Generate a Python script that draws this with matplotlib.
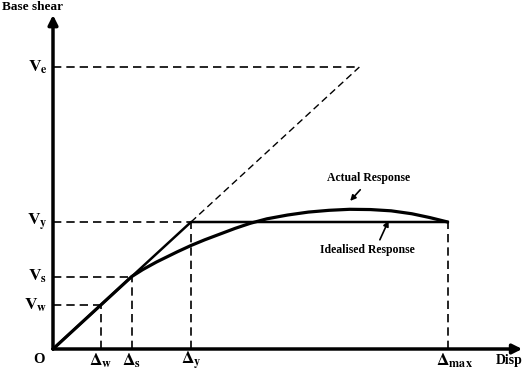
import matplotlib.pyplot as plt
import numpy as np

plt.rcParams['mathtext.fontset'] = 'stix'
plt.rcParams['font.family'] = 'Liberation Serif'

# key points (displacement, shear) in units of yield
d_w, v_w = 0.345, 0.345
d_s, v_s = 0.57, 0.57
d_y, v_y = 1.0, 1.0
d_e, v_e = 2.22, 2.22
d_max = 2.86

# actual response curve
act_x = [0.0, 0.345, 0.57, 0.65, 0.75, 0.9, 1.0, 1.1, 1.21, 1.32, 1.43, 1.55,
         1.7, 1.85, 2.0, 2.15, 2.3, 2.45, 2.6, 2.73, 2.86]
act_y = [0.0, 0.345, 0.57, 0.625, 0.685, 0.765, 0.815, 0.86, 0.905, 0.95, 0.99, 1.025,
         1.055, 1.078, 1.092, 1.10, 1.098, 1.088, 1.065, 1.035, 1.0]

v_labels = [r'$\mathbf{V_e}$', r'$\mathbf{V_y}$', r'$\mathbf{V_s}$', r'$\mathbf{V_w}$']
v_vals = [v_e, v_y, v_s, v_w]
d_labels = [r'$\mathbf{\Delta_w}$', r'$\mathbf{\Delta_s}$', r'$\mathbf{\Delta_y}$', r'$\mathbf{\Delta_{max}}$']
d_vals = [d_w, d_s, d_y, d_max]

fig = plt.figure(figsize=(5.24, 3.79), dpi=100)
ax = fig.add_axes([0, 0, 1, 1])
ax.set_xlim(-53/138, 471/138)
ax.set_ylim(-30/127, 349/127)
ax.axis('off')

# axes with arrows
ax.annotate('', xy=(3.40, 0), xytext=(0, 0), annotation_clip=False,
            arrowprops=dict(arrowstyle='-|>', lw=2.5, color='black', mutation_scale=14,
                            shrinkA=0, shrinkB=0))
ax.annotate('', xy=(0, 2.63), xytext=(0, 0), annotation_clip=False,
            arrowprops=dict(arrowstyle='-|>', lw=2.5, color='black', mutation_scale=14,
                            shrinkA=0, shrinkB=0))

dash = dict(color='black', lw=1.2, ls=(0, (5, 3)))
# horizontal dashed guides
ax.plot([0, d_e], [v_e, v_e], **dash)
ax.plot([0, d_y], [v_y, v_y], **dash)
ax.plot([0, d_s], [v_s, v_s], **dash)
ax.plot([0, d_w], [v_w, v_w], **dash)
# vertical dashed guides
ax.plot([d_w, d_w], [0, v_w], **dash)
ax.plot([d_s, d_s], [0, v_s], **dash)
ax.plot([d_y, d_y], [0, v_y], **dash)
ax.plot([d_max, d_max], [0, v_y], **dash)
# elastic extension
ax.plot([d_y, d_e], [v_y, v_e], color='black', lw=1.0, ls=(0, (5, 3)))

# idealised response
ax.plot([0, d_y, d_max], [0, v_y, v_y], color='black', lw=1.8)
# actual response
ax.plot(act_x, act_y, color='black', lw=2.3, solid_capstyle='round')

for lab, v in zip(v_labels, v_vals):
    ax.text(-0.04, v, lab, ha='right', va='center', fontsize=12.5)
for lab, d in zip(d_labels, d_vals):
    ax.text(d + (0.05 if d == d_max else 0), -0.09, lab, ha='center', va='center', fontsize=12.5)
ax.text(-0.06, -0.08, 'O', ha='right', va='center', fontsize=10.5, fontweight='bold')

ax.text(-0.37, 2.69, 'Base shear', ha='left', va='center', fontsize=9.5, fontweight='bold')
ax.text(3.405, -0.09, 'Disp', ha='right', va='center', fontsize=10, fontweight='bold')

ax.text(2.29, 1.35, 'Actual Response', ha='center', va='center', fontsize=8.5, fontweight='bold')
ax.annotate('', xy=(2.14, 1.15), xytext=(2.24, 1.27),
            arrowprops=dict(arrowstyle='-|>', lw=1.2, color='black', mutation_scale=8))
ax.text(2.28, 0.78, 'Idealised Response', ha='center', va='center', fontsize=8.5, fontweight='bold')
ax.annotate('', xy=(2.44, 1.03), xytext=(2.36, 0.84),
            arrowprops=dict(arrowstyle='-|>', lw=1.2, color='black', mutation_scale=8))

fig.savefig('out.png', dpi=100)
